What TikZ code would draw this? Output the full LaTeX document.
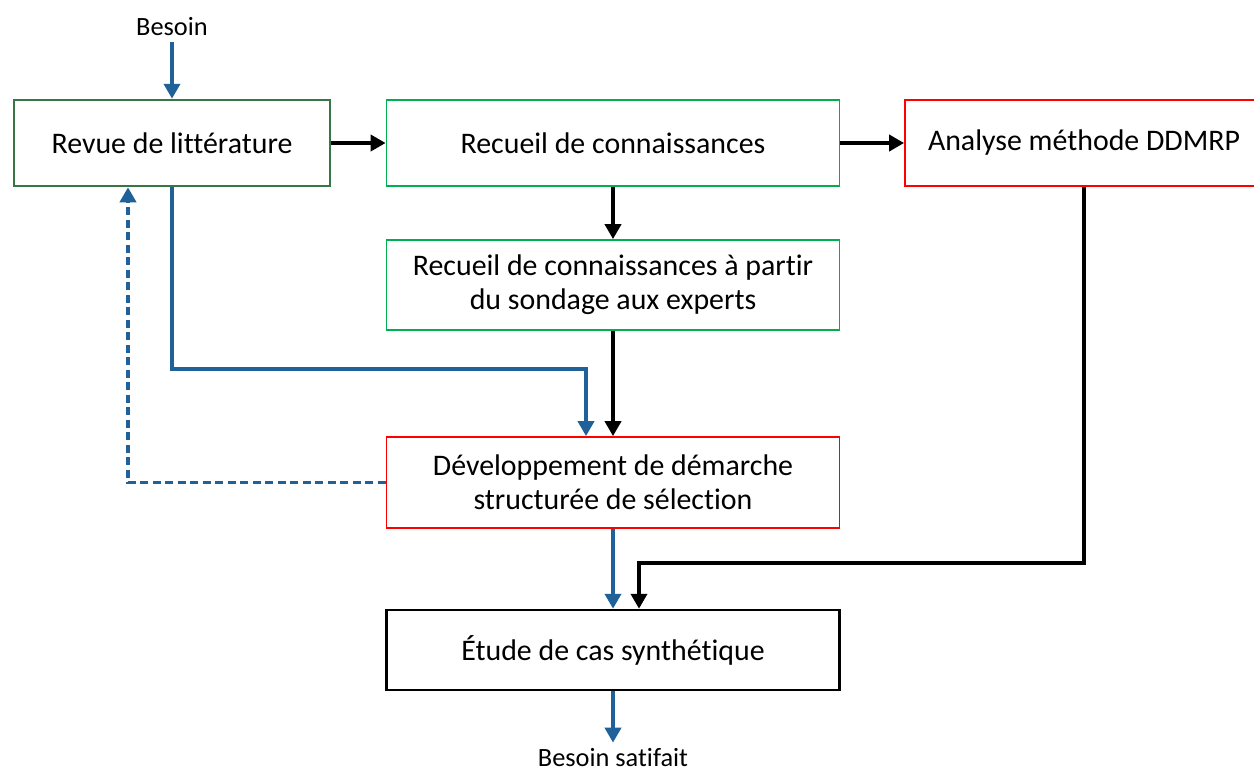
\documentclass[tikz,border=0pt]{standalone}
\usepackage{fontspec}
\setmainfont{Carlito}[Ligatures=NoCommon]
\usetikzlibrary{arrows.meta}

\definecolor{vertfonce}{RGB}{56,118,72}
\definecolor{vertclair}{RGB}{0,176,80}
\definecolor{rouge}{RGB}{255,0,0}
\definecolor{bleu}{RGB}{31,97,152}

\begin{document}
\begin{tikzpicture}[x=0.2mm, y=-0.2mm, >={Triangle[width=3.2mm,length=3mm]},
    every node/.style={font=\fontsize{17}{19.5}\selectfont},
    boite/.style={draw, line width=0.35mm, align=center, inner sep=0pt},
    fleche/.style={->, line width=0.75mm},
    etiq/.style={font=\fontsize{15}{18}\selectfont}]
    \useasboundingbox (0,0) rectangle (1254,774);

    % les étapes
    \node[boite, draw=vertfonce, line width=0.5mm, minimum width=63.2mm, minimum height=17.2mm] (revue) at (172,143) {Revue de littérature};
    \node[boite, draw=vertclair, minimum width=90.6mm, minimum height=17.2mm] (recueil) at (613,143) {Recueil de connaissances};
    \node[boite, draw=rouge, minimum width=71.6mm, minimum height=17.2mm] (ddmrp) at (1084,143) {Analyse méthode DDMRP};
    \node[boite, draw=vertclair, minimum width=90.6mm, minimum height=18mm] (sondage) at (613,285) {Recueil de connaissances à partir\\du sondage aux experts};
    \node[boite, draw=rouge, minimum width=90.6mm, minimum height=18.2mm] (demarche) at (613,482.5) {Développement de démarche\\structurée de sélection};
    \node[boite, line width=0.5mm, minimum width=90.6mm, minimum height=16mm] (etude) at (613,650) {Étude de cas synthétique};

    % entrée et sortie
    \node[etiq] (besoin) at (172,27) {Besoin};
    \node[etiq] (satisfait) at (613,758) {Besoin satifait};

    % flux noir
    \draw[fleche] (revue) -- (recueil);
    \draw[fleche] (recueil) -- (ddmrp);
    \draw[fleche] (recueil) -- (sondage);
    \draw[fleche] (sondage) -- (demarche);
    \coordinate (coude) at (639,563);
    \draw[fleche] (ddmrp.south) |- (coude) -- (coude |- etude.north);

    % flux bleu
    \draw[fleche, bleu] (besoin) -- (revue);
    \coordinate (jonction) at (586,369);
    \draw[fleche, bleu] (revue.south) |- (jonction) -- (jonction |- demarche.north);
    \draw[fleche, bleu] (demarche) -- (etude);
    \draw[fleche, bleu] (etude) -- (satisfait);

    % retour vers la revue (pointillé)
    \coordinate (retour) at (128,483);
    \draw[fleche, bleu, dash pattern=on 1.6mm off 0.9mm] (demarche.west) -| (retour |- revue.south);
\end{tikzpicture}
\end{document}
